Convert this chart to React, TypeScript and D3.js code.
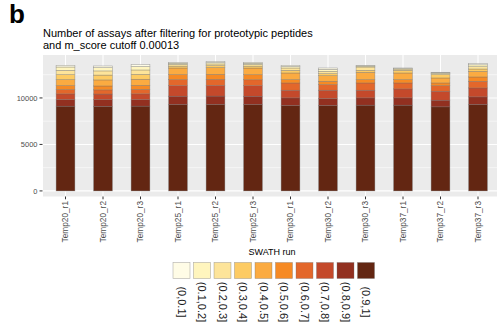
import React from "react";
import * as d3 from "d3";

// SWATH runs (x axis)
const runs = [
  "Temp20_r1", "Temp20_r2", "Temp20_r3",
  "Temp25_r1", "Temp25_r2", "Temp25_r3",
  "Temp30_r1", "Temp30_r2", "Temp30_r3",
  "Temp37_r1", "Temp37_r2", "Temp37_r3",
];

// score bins (legend order, first bin stacked on top)
const bins = [
  "(0,0.1]", "(0.1,0.2]", "(0.2,0.3]", "(0.3,0.4]", "(0.4,0.5]",
  "(0.5,0.6]", "(0.6,0.7]", "(0.7,0.8]", "(0.8,0.9]", "(0.9,1]",
];

const binColors = [
  "#FFFCE6", "#FFF5BE", "#FDE49A", "#FDCB63", "#FBAB41",
  "#F68A24", "#E3672B", "#C4492B", "#923020", "#632612",
];

// assay counts per bin, one value per run
const bin01 = [178, 180, 200, 90, 100, 100, 135, 158, 78, 51, 52, 122];
const bin02 = [358, 350, 370, 130, 140, 130, 150, 200, 100, 70, 80, 200];
const bin03 = [464, 450, 470, 180, 180, 180, 251, 250, 358, 130, 120, 250];
const bin04 = [536, 520, 530, 200, 210, 200, 285, 214, 214, 285, 357, 250];
const bin05 = [643, 650, 650, 715, 730, 720, 715, 608, 786, 715, 536, 607];
const bin06 = [429, 420, 440, 536, 540, 540, 357, 357, 357, 357, 286, 465];
const bin07 = [464, 450, 480, 643, 650, 640, 786, 607, 786, 643, 607, 714];
const bin08 = [607, 600, 620, 1143, 1150, 1140, 822, 893, 822, 965, 965, 964];
const bin09 = [715, 720, 700, 893, 900, 890, 821, 750, 785, 785, 714, 822];
const bin10 = [9114, 9100, 9120, 9293, 9300, 9290, 9186, 9186, 9222, 9222, 9043, 9293];

const yTicks = [0, 5000, 10000];
const yMinor = [2500, 7500, 12500];

const W = 497;
const H = 327;
const FONT = "'Liberation Sans', Arial, Helvetica, sans-serif";

export default function App() {
  const binValues = [bin01, bin02, bin03, bin04, bin05, bin06, bin07, bin08, bin09, bin10];

  const rows = runs.map((run, i) => {
    const r: Record<string, any> = { run };
    bins.forEach((b, k) => (r[b] = binValues[k][i]));
    return r;
  });

  // bottom of the stack is the last bin
  const stackKeys = [...bins].reverse();
  const series = d3.stack<Record<string, any>>().keys(stackKeys)(rows);

  const panel = { left: 43, right: 500.5, top: 55, bottom: 196.5 };
  const step = (panel.right - panel.left) / (runs.length - 1 + 1.2);
  const x = d3
    .scalePoint<string>()
    .domain(runs)
    .range([panel.left + 0.6 * step, panel.right - 0.6 * step]);
  const barW = step * 0.5;

  const y = d3.scaleLinear().domain([-600, 14620]).range([panel.bottom, panel.top]);

  const colorOf = d3.scaleOrdinal<string, string>().domain(bins).range(binColors);

  const legendX0 = 173;
  const legendStep = 20.5;
  const keyW = 17;
  const keyH = 16;
  const keyTop = 262.5;

  return (
    <svg
      width={W}
      height={H}
      style={{ position: "absolute", left: 0, top: 0, background: "#fff" }}
      fontFamily={FONT}
    >
      {/* panel label */}
      <text x={9} y={23} fontSize={26} fontWeight="bold" fill="#000">
        b
      </text>

      {/* title */}
      <text x={43} y={36.5} fontSize={11} fill="#000">
        Number of assays after filtering for proteotypic peptides
      </text>
      <text x={43} y={48.5} fontSize={11} fill="#000">
        and m_score cutoff 0.00013
      </text>

      {/* panel */}
      <rect
        x={panel.left}
        y={panel.top}
        width={panel.right - panel.left}
        height={panel.bottom - panel.top}
        fill="#EBEBEB"
      />
      {yMinor.map((v) => (
        <line
          key={"mn" + v}
          x1={panel.left}
          x2={panel.right}
          y1={y(v)}
          y2={y(v)}
          stroke="#fff"
          strokeWidth={0.55}
        />
      ))}
      {yTicks.map((v) => (
        <line
          key={"mj" + v}
          x1={panel.left}
          x2={panel.right}
          y1={y(v)}
          y2={y(v)}
          stroke="#fff"
          strokeWidth={1.1}
        />
      ))}
      {runs.map((r) => (
        <line
          key={"vx" + r}
          x1={x(r)}
          x2={x(r)}
          y1={panel.top}
          y2={panel.bottom}
          stroke="#fff"
          strokeWidth={1.1}
        />
      ))}

      {/* stacked bars */}
      {series.map((s) => (
        <g key={s.key}>
          {s.map((d, i) => (
            <rect
              key={i}
              x={(x(runs[i]) as number) - barW / 2}
              y={y(d[1])}
              width={barW}
              height={y(d[0]) - y(d[1])}
              fill={colorOf(s.key)}
              stroke="#6e6e6e"
              strokeOpacity={0.55}
              strokeWidth={0.6}
            />
          ))}
        </g>
      ))}

      {/* y axis */}
      {yTicks.map((v) => (
        <g key={"yt" + v}>
          <line x1={39.5} x2={42.5} y1={y(v)} y2={y(v)} stroke="#333" strokeWidth={1} />
          <text
            x={37.5}
            y={y(v)}
            dy="0.35em"
            fontSize={7.5}
            fill="#4D4D4D"
            textAnchor="end"
          >
            {d3.format("d")(v)}
          </text>
        </g>
      ))}

      {/* x axis */}
      {runs.map((r) => (
        <g key={"xt" + r}>
          <line
            x1={x(r)}
            x2={x(r)}
            y1={panel.bottom}
            y2={panel.bottom + 2.8}
            stroke="#333"
            strokeWidth={1}
          />
          <text
            transform={`translate(${x(r)},${panel.bottom + 4.5}) rotate(-90)`}
            dy="0.35em"
            fontSize={8.3}
            fill="#4D4D4D"
            textAnchor="end"
          >
            {r}
          </text>
        </g>
      ))}

      {/* legend */}
      <text x={272} y={255} fontSize={9} fill="#000" textAnchor="middle">
        SWATH run
      </text>
      {bins.map((b, k) => {
        const kx = legendX0 + k * legendStep;
        return (
          <g key={"lg" + b}>
            <rect
              x={kx}
              y={keyTop}
              width={keyW}
              height={keyH}
              fill={colorOf(b)}
              stroke="#6e6e6e"
              strokeOpacity={0.55}
              strokeWidth={0.6}
            />
            <text
              transform={`translate(${kx + keyW / 2},${302}) rotate(90)`}
              dy="0.35em"
              fontSize={11}
              fill="#1A1A1A"
              textAnchor="middle"
            >
              {b}
            </text>
          </g>
        );
      })}
    </svg>
  );
}
